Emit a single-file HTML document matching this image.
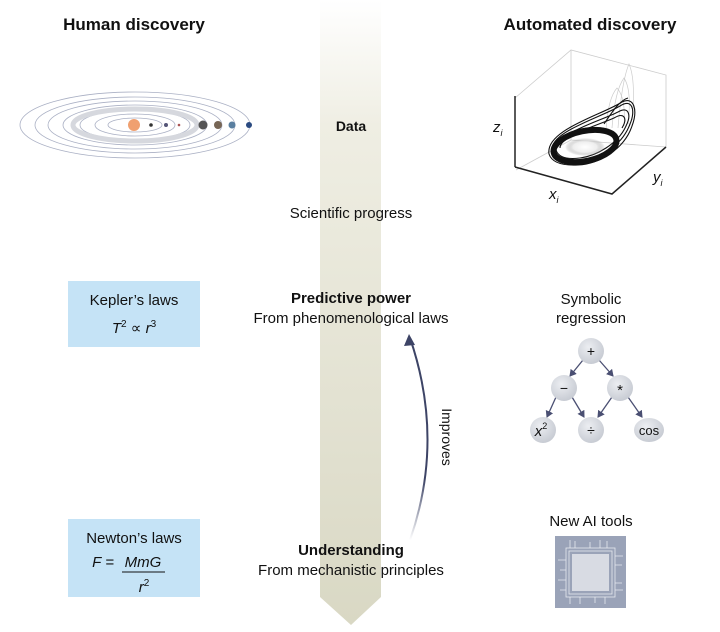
<!DOCTYPE html>
<html><head><meta charset="utf-8"><style>
html,body{margin:0;padding:0;background:#fff}
svg{display:block}
text{font-family:"Liberation Sans",sans-serif;fill:#111}
</style></head><body>
<svg width="720" height="632" viewBox="0 0 720 632" xmlns="http://www.w3.org/2000/svg">
<defs>
<linearGradient id="band" x1="0" y1="0" x2="0" y2="1">
<stop offset="0" stop-color="#ffffff"/>
<stop offset="0.2" stop-color="#efeee3"/>
<stop offset="1" stop-color="#d9d8c4"/>
</linearGradient>
<linearGradient id="arr" x1="0" y1="1" x2="0" y2="0">
<stop offset="0" stop-color="#3d4466" stop-opacity="0"/>
<stop offset="0.3" stop-color="#3d4466"/>
<stop offset="1" stop-color="#3d4466"/>
</linearGradient>
<radialGradient id="node" cx="0.4" cy="0.35" r="0.7">
<stop offset="0" stop-color="#eceef2"/><stop offset="1" stop-color="#c5c9d1"/>
</radialGradient>
<radialGradient id="hole" cx="0.5" cy="0.5" r="0.5">
<stop offset="0" stop-color="#fff"/><stop offset="0.6" stop-color="#eee"/><stop offset="1" stop-color="#888" stop-opacity="0"/>
</radialGradient>
<marker id="ah" markerWidth="8" markerHeight="8" refX="6" refY="4" orient="auto" markerUnits="userSpaceOnUse">
<path d="M0,0 L7,4 L0,8 Z" fill="#4a4f72"/></marker>
</defs>
<path d="M320,0 H381 V597 L351,625 L320,597 Z" fill="url(#band)"/>

<text x="134" y="30" font-size="17" font-weight="bold" text-anchor="middle">Human discovery</text>
<text x="590" y="30" font-size="17" font-weight="bold" text-anchor="middle">Automated discovery</text>

<g fill="none" stroke="#aab0c4" stroke-width="0.8">
<ellipse cx="135" cy="125" rx="115" ry="33"/>
<ellipse cx="135" cy="125" rx="100" ry="28"/>
<ellipse cx="135" cy="125" rx="87" ry="24"/>
<ellipse cx="135" cy="125" rx="72" ry="20"/>
<ellipse cx="135" cy="125" rx="55" ry="15"/>
<ellipse cx="135" cy="125" rx="40" ry="11"/>
<ellipse cx="135" cy="125" rx="27" ry="7"/>
</g>
<ellipse cx="135" cy="125" rx="62" ry="16" fill="none" stroke="#d6d8de" stroke-width="5"/>
<circle cx="134" cy="125" r="6" fill="#f0a070"/>
<circle cx="151" cy="125" r="1.8" fill="#333"/>
<circle cx="166" cy="125" r="2" fill="#557"/>
<circle cx="179" cy="125" r="1.3" fill="#a55"/>
<circle cx="203" cy="125" r="4.5" fill="#555"/>
<circle cx="218" cy="125" r="4" fill="#776655"/>
<circle cx="232" cy="125" r="3.5" fill="#5a7fa0"/>
<circle cx="249" cy="125" r="3" fill="#2a4a80"/>

<text x="351" y="131" font-size="14" font-weight="bold" text-anchor="middle">Data</text>
<text x="351" y="218" font-size="15" text-anchor="middle">Scientific progress</text>
<text x="351" y="303" font-size="15" font-weight="bold" text-anchor="middle">Predictive power</text>
<text x="351" y="323" font-size="15" text-anchor="middle">From phenomenological laws</text>
<text x="351" y="555" font-size="15" font-weight="bold" text-anchor="middle">Understanding</text>
<text x="351" y="575" font-size="15" text-anchor="middle">From mechanistic principles</text>

<rect x="68" y="281" width="132" height="66" fill="#c5e3f6"/>
<text x="134" y="305" font-size="15" text-anchor="middle">Kepler’s laws</text>
<text x="134" y="333" font-size="15" font-style="italic" text-anchor="middle">T<tspan font-size="10" dy="-6" font-style="normal">2</tspan><tspan dy="6" font-style="normal"> ∝ </tspan>r<tspan font-size="10" dy="-6" font-style="normal">3</tspan></text>

<rect x="68" y="519" width="132" height="78" fill="#c5e3f6"/>
<text x="134" y="543" font-size="15" text-anchor="middle">Newton’s laws</text>
<text x="114" y="567" font-size="15" font-style="italic" text-anchor="end">F =</text>
<text x="143" y="567" font-size="15" font-style="italic" text-anchor="middle">MmG</text>
<line x1="122" y1="572" x2="165" y2="572" stroke="#111" stroke-width="1"/>
<text x="144" y="592" font-size="15" font-style="italic" text-anchor="middle">r<tspan font-size="10" dy="-6" font-style="normal">2</tspan></text>

<path d="M410,540 Q445,440 410,338" fill="none" stroke="url(#arr)" stroke-width="2"/>
<path d="M404,346 L409,334 L415,345 Z" fill="#3d4466"/>
<text transform="translate(442,437) rotate(90)" font-size="14" text-anchor="middle">Improves</text>

<!-- attractor -->
<g stroke="#ccc" stroke-width="0.8" fill="none">
<polyline points="515,98 571,50 666,75 666,147"/>
<line x1="571" y1="50" x2="571" y2="140"/>
<line x1="571" y1="140" x2="516" y2="170"/>
<line x1="571" y1="140" x2="666" y2="147"/>
</g>
<g stroke="#222" stroke-width="1.5" fill="none">
<line x1="515" y1="96" x2="515" y2="167"/>
<polyline points="515,167 612,194 666,147"/>
</g>
<g fill="none" stroke="#ccc" stroke-width="0.7">
<path d="M618,128 Q622,80 629,64 Q636,80 632,120"/>
<path d="M612,128 Q615,90 624,78 Q632,90 628,124"/>
<path d="M606,130 Q608,98 617,88 Q626,98 624,126"/>
</g>
<g fill="none" stroke="#111" stroke-width="1.1">
<path d="M552,152 C548,132 600,118 620,106 C632,98 636,110 630,124 C622,146 598,160 580,162 C560,164 554,158 552,152 Z"/>
<path d="M556,150 C554,134 598,122 618,112 C628,106 632,114 626,126 C618,144 596,156 580,158 C564,160 558,156 556,150 Z"/>
<path d="M549,154 C545,130 602,115 622,102 C634,96 638,110 632,126 C624,150 598,164 578,165 C558,166 551,160 549,154 Z"/>
<path d="M560,148 C560,136 596,126 614,118 C624,112 628,118 622,128"/>
<path d="M604,124 C612,112 620,100 628,98"/>
</g>
<ellipse cx="585" cy="146" rx="32" ry="15" fill="none" stroke="#111" stroke-width="6" transform="rotate(-12 585 146)"/>
<ellipse cx="585" cy="147" rx="20" ry="9" fill="url(#hole)"/>
<text x="493" y="132" font-size="15" font-style="italic">z<tspan font-size="9" dy="4">i</tspan></text>
<text x="549" y="199" font-size="15" font-style="italic">x<tspan font-size="9" dy="4">i</tspan></text>
<text x="653" y="182" font-size="15" font-style="italic">y<tspan font-size="9" dy="4">i</tspan></text>

<text x="591" y="304" font-size="15" text-anchor="middle">Symbolic</text>
<text x="591" y="323" font-size="15" text-anchor="middle">regression</text>
<g stroke="#4a4f72" stroke-width="1.3" marker-end="url(#ah)">
<line x1="583" y1="360" x2="570" y2="376"/>
<line x1="599" y1="360" x2="613" y2="376"/>
<line x1="556" y1="397" x2="547" y2="417"/>
<line x1="572" y1="397" x2="584" y2="417"/>
<line x1="612" y1="397" x2="598" y2="417"/>
<line x1="628" y1="397" x2="642" y2="417"/>
</g>
<g fill="url(#node)">
<circle cx="591" cy="351" r="13"/>
<circle cx="564" cy="388" r="13"/>
<circle cx="620" cy="388" r="13"/>
<circle cx="543" cy="430" r="13"/>
<circle cx="591" cy="430" r="13"/>
<ellipse cx="649" cy="430" rx="15" ry="12"/>
</g>
<text x="591" y="356" font-size="14" text-anchor="middle">+</text>
<text x="564" y="393" font-size="14" text-anchor="middle">−</text>
<text x="620" y="395" font-size="15" text-anchor="middle">*</text>
<text x="541" y="436" font-size="15" font-style="italic" text-anchor="middle">x<tspan font-size="9" dy="-7" font-style="normal">2</tspan></text>
<text x="591" y="435" font-size="14" text-anchor="middle">÷</text>
<text x="649" y="435" font-size="13" text-anchor="middle">cos</text>

<text x="591" y="526" font-size="15" text-anchor="middle">New AI tools</text>
<rect x="555" y="536" width="71" height="72" fill="#9aa3b8"/>
<g stroke="#e6e9ef" stroke-width="0.8" fill="none">
<rect x="569" y="551" width="43" height="43"/>
<rect x="566" y="548" width="49" height="49"/>
<path d="M570,548 V540 M575,548 V541 M590,548 V542 M600,548 V540 M607,548 V541
M570,597 V604 M580,597 V604 M595,597 V603 M605,597 V604
M566,560 H558 M566,570 H560 M566,580 H558 M566,590 H560
M615,556 H623 M615,565 H622 M615,583 H622 M615,590 H623"/>
</g>
<rect x="572" y="554" width="37" height="37" fill="#d8dbe3"/>
</svg>
</body></html>
